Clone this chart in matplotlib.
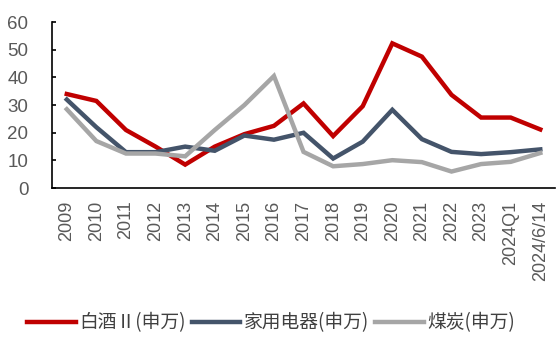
import numpy as np
import matplotlib
matplotlib.use("Agg")
import matplotlib.pyplot as plt

plt.rcParams['font.family'] = ['Liberation Sans', 'Noto Sans CJK SC', 'DejaVu Sans']

labels = ['2009', '2010', '2011', '2012', '2013', '2014', '2015', '2016', '2017',
          '2018', '2019', '2020', '2021', '2022', '2023', '2024Q1', '2024/6/14']

baijiu = [34, 31.5, 21, 15, 8.5, 15, 19.5, 22.5, 30.6, 18.8, 29.6, 52.3, 47.5, 33.7, 25.5, 25.5, 21.2]
jiadian = [32, 22, 13, 13, 15, 13.5, 19, 17.5, 20, 10.7, 16.8, 28.3, 17.7, 13.1, 12.3, 13, 14]
meitan = [28.5, 17, 12.5, 12.5, 11.5, 21, 30, 40.5, 13.1, 7.9, 8.7, 10.1, 9.4, 6, 8.7, 9.5, 12.7]

names = ['白酒Ⅱ(申万)', '家用电器(申万)', '煤炭(申万)']
colors = ['#C00000', '#44546A', '#A6A6A6']

fig = plt.figure(figsize=(5.59, 3.39), dpi=100)
ax = fig.add_axes([0.093, 0.445, 0.9, 0.49])

x = np.arange(len(labels))
for ys, name, c in zip([baijiu, jiadian, meitan], names, colors):
    ax.plot(x, ys, color=c, lw=3.2, label=name, solid_joinstyle='miter')

ax.set_xlim(-0.5, len(labels) - 0.5)
ax.set_ylim(0, 60)
ax.set_yticks(range(0, 61, 10))
ax.set_xticks(x)
ax.set_xticklabels(labels, rotation=90)
ax.spines['top'].set_visible(False)
ax.spines['right'].set_visible(False)
ax.spines['left'].set_linewidth(1.2)
ax.spines['bottom'].set_linewidth(1.2)
ax.tick_params(axis='y', direction='in', length=3, width=1.2, pad=17,
               labelsize=13.5, labelcolor='#595959')
ax.tick_params(axis='x', length=0, pad=9, labelsize=13, labelcolor='#595959')

fig.legend(loc='center', bbox_to_anchor=(0.485, 0.047), ncol=3, frameon=False,
           handlelength=2.6, handletextpad=0.2, columnspacing=0.3,
           prop={'family': ['Noto Sans CJK SC', 'DejaVu Sans'], 'size': 13.5},
           labelcolor='#404040')

fig.savefig('out.png', dpi=100)
